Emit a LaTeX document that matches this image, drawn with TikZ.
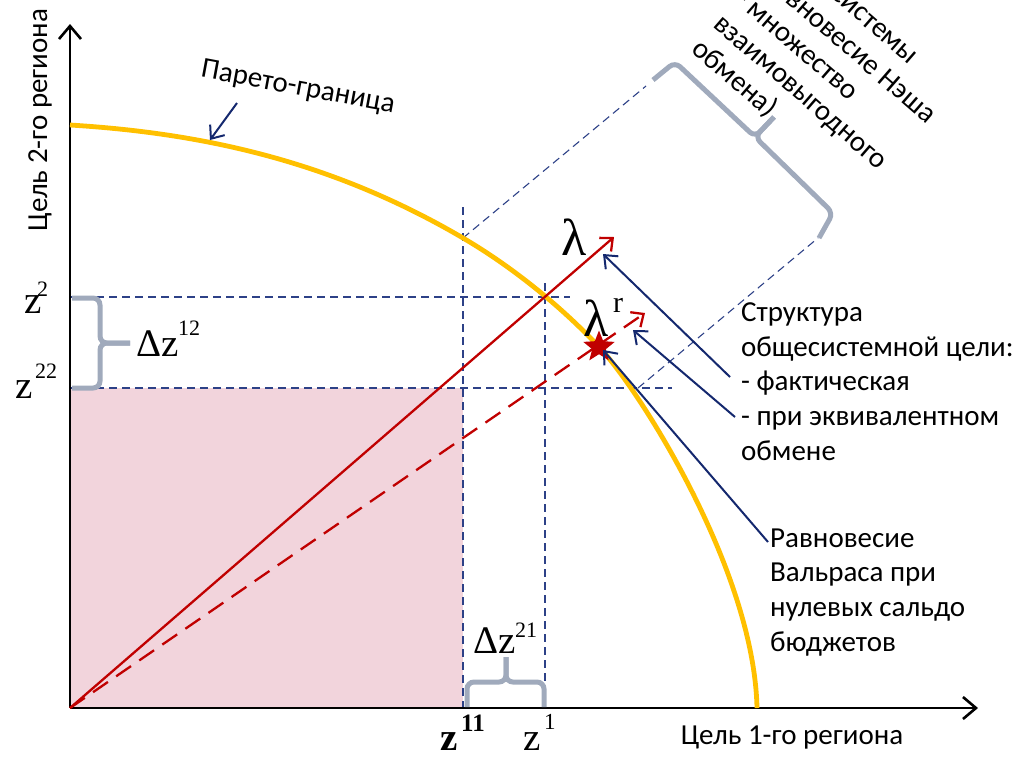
\documentclass[tikz,border=0pt]{standalone}
\usepackage{fontspec}
\setmainfont{Carlito}
\newfontfamily\serifm{Liberation Serif}
\usetikzlibrary{arrows.meta,shapes.geometric}
\definecolor{gold}{RGB}{255,192,0}
\definecolor{dred}{RGB}{192,0,0}
\definecolor{navy}{RGB}{20,40,110}
\definecolor{guidec}{RGB}{45,65,135}
\definecolor{bracegray}{RGB}{160,170,188}
\definecolor{pinkfill}{RGB}{242,212,220}
\begin{document}
\begin{tikzpicture}[x=1pt,y=-1pt,
  axisline/.style={draw=black, line width=2.6pt, -{Straight Barb[length=13pt,width=22pt]}},
  guide/.style={draw=guidec, line width=1.1pt, dash pattern=on 8pt off 5pt},
  redvec/.style={draw=dred, line width=2.3pt, -{Straight Barb[length=10pt,width=18pt]}},
  pointer/.style={draw=navy, line width=2pt, -{Straight Barb[length=11pt,width=18pt]}},
  bracestyle/.style={draw=bracegray, line width=5pt, rounded corners=7pt, line cap=butt},
  lbl/.style={font=\fontsize{29}{34.6}\selectfont, align=left, inner sep=0pt, anchor=base west},
  rlbl/.style={font=\fontsize{29}{33}\selectfont, inner sep=0pt, anchor=base west, rotate=-41},
  mz/.style={font=\serifm\fontsize{39}{39}\selectfont, inner sep=0pt, anchor=base west},
  msup/.style={font=\serifm\fontsize{22}{22}\selectfont, inner sep=0pt, anchor=base west},
  lam/.style={font=\serifm\fontsize{52}{52}\selectfont, inner sep=0pt, anchor=base west}
]
\useasboundingbox (0,0) rectangle (1022,756);

% shaded region
\fill[pinkfill] (70,388) rectangle (463,708);

% guide lines
\draw[guide] (70,297) -- (570,297);
\draw[guide] (70,388) -- (672,388);
\draw[guide] (463,207) -- (463,708);
\draw[guide] (545,283) -- (545,708);
\draw[guide] (463,238) -- (646,86);
\draw[guide] (638,388) -- (818,238);

% axes
\coordinate (O) at (70,708);
\coordinate (ytop) at (70,24);
\coordinate (xend) at (978,708);
\draw[axisline] (O) -- (ytop);
\draw[axisline] (O) -- (xend);

% Pareto frontier
\draw[gold, line width=4.8pt, line cap=butt] (70,125)
  .. controls (200,133) and (330,160) .. (463,238)
  .. controls (510,265.5) and (560,305) .. (600,348)
  .. controls (640,391) and (754,570) .. (757,708);

% vectors
\coordinate (lamtip) at (614,237);
\coordinate (lamrtip) at (645,313);
\draw[redvec] (O) -- (lamtip);
\draw[redvec, dash pattern=on 18pt off 10pt] (O) -- (lamrtip);
\node[star, star points=5, star point ratio=2.3, fill=dred, minimum size=33pt, inner sep=0pt] (walpt) at (599,347) {};

% braces
\draw[bracestyle] (72,298) -- (100,298) -- (100,343) -- (130,343);
\draw[bracestyle] (130,343) -- (100,343) -- (100,388) -- (72,388);
\draw[bracestyle] (467,707) -- (467,682) -- (506,682) -- (506,657);
\draw[bracestyle] (506,657) -- (506,682) -- (544,682) -- (544,707);
\draw[bracestyle] (653,80) -- (675,62) -- (755,137) -- (774,117);
\draw[bracestyle] (774,117) -- (755,137) -- (833,213) -- (819,238);

% math labels
\node[mz] (z2) at (24,313) {z};
\node[msup] (z2s) at (37,296) {2};
\node[mz] (z22) at (15,398) {z};
\node[msup] (z22s) at (35,378) {22};
\node[mz] (dz12) at (136,356) {Δz};
\node[msup] (dz12s) at (178,335) {12};
\node[mz] (dz21) at (473,653) {Δz};
\node[msup] (dz21s) at (515,637) {21};
\node[mz, font=\serifm\bfseries\fontsize{39}{39}\selectfont] (z11) at (440,750) {z};
\node[msup, font=\serifm\bfseries\fontsize{25}{25}\selectfont] (z11s) at (461,731) {11};
\node[mz] (z1) at (523,750) {z};
\node[msup, font=\serifm\fontsize{23}{23}\selectfont] (z1s) at (544,729) {1};
\node[lam] (lam) at (561,255) {λ};
\node[lam] (lamr) at (583,336) {λ};
\node[msup, font=\serifm\fontsize{30}{30}\selectfont] (lamrs) at (613,312) {r};

% text labels
\node[font=\fontsize{29}{32}\selectfont, rotate=90, inner sep=0pt] (ylab) at (40,120) {Цель 2-го региона};
\node[font=\fontsize{29}{32}\selectfont, inner sep=0pt] (xlab) at (792,737) {Цель 1-го региона};
\node[font=\fontsize{29}{32}\selectfont, rotate=-10.5, inner sep=0pt] (parlab) at (298,88) {Парето-граница};
\node[lbl] (struct) at (741,460) {Структура\\общесистемной цели:\\- фактическая\\- при эквивалентном\\обмене};
\node[lbl] (walras) at (770,651) {Равновесие\\Вальраса при\\нулевых сальдо\\бюджетов};

% rotated core text
\node[rlbl] (core1) at (778,-49) {Ядро системы};
\node[rlbl] (core2) at (756,-24) {(равновесие Нэша};
\node[rlbl] (core3) at (734,1) {- множество};
\node[rlbl] (core4) at (712,26) {взаимовыгодного};
\node[rlbl] (core5) at (690,51) {обмена)};

% pointers
\coordinate (pp1) at (237,103);
\coordinate (pt1) at (210,140);
\draw[pointer] (pp1) -- (pt1);
\coordinate (s1) at (730,377);
\coordinate (t1) at (603,254);
\draw[pointer] (s1) -- (t1);
\coordinate (s2) at (735,417);
\coordinate (t2) at (633,330);
\draw[pointer] (s2) -- (t2);
\coordinate (s3) at (768,542);
\coordinate (t3) at (603,350);
\draw[pointer] (s3) -- (t3);
\end{tikzpicture}
\end{document}
